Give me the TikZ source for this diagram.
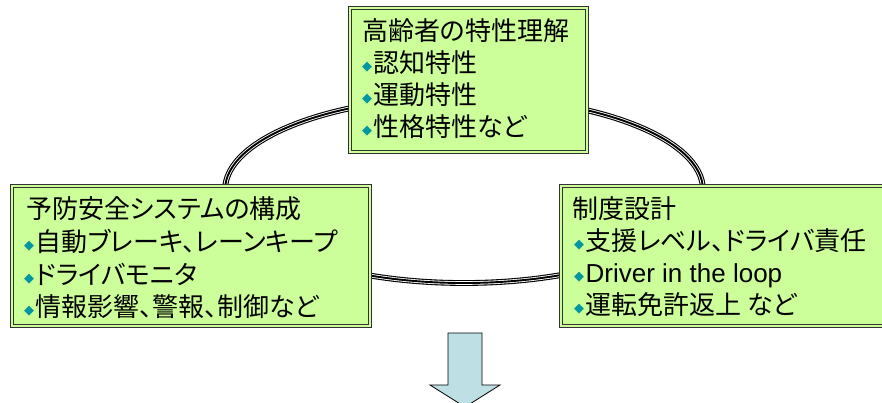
\documentclass[tikz,border=0pt]{standalone}
\usepackage{fontspec}
\setmainfont[RawFeature=+palt]{Noto Sans CJK JP}
\newfontfamily\latfont{Liberation Sans}
\newfontfamily\symfont{DejaVu Sans}
\definecolor{boxfill}{RGB}{204,255,153}
\definecolor{boxline}{RGB}{50,50,50}
\definecolor{bulc}{RGB}{0,150,160}
\definecolor{arrowfill}{RGB}{190,224,228}
\newcommand{\bul}{\raisebox{2pt}{\symfont\fontsize{13}{13}\selectfont\color{bulc}◆}\hspace{1.5pt}}
\begin{document}
\begin{tikzpicture}[x=1pt,y=-1pt,
  box/.style={draw=boxline, line width=1.2pt, double=boxfill, double distance=1.8pt,
    fill=boxfill, anchor=north west, inner sep=0pt},
  txt/.style={anchor=base west, inner sep=0pt, font=\fontsize{26}{30}\selectfont}]
\useasboundingbox (0,0) rectangle (882,402);
% ring
\coordinate (c) at (464,190);
\draw[black, line width=5.8pt] (c) ellipse [x radius=239pt, y radius=93pt];
\draw[white, line width=3.6pt] (c) ellipse [x radius=239pt, y radius=93pt];
\draw[black, line width=1.9pt] (c) ellipse [x radius=239pt, y radius=93pt];
% boxes
\node[box, minimum width=237pt, minimum height=144pt] (top) at (349,7) {};
\node[box, minimum width=358pt, minimum height=140pt] (left) at (11,185) {};
\node[box, minimum width=340pt, minimum height=140pt] (right) at (560,185) {};
% top text
\node[txt] (t1) at (362,40) {高齢者の特性理解};
\node[txt] (t2) at (362,72) {\bul 認知特性};
\node[txt] (t3) at (362,104) {\bul 運動特性};
\node[txt] (t4) at (362,136) {\bul 性格特性など};
% left text
\node[txt] (l1) at (26,218) {予防安全システムの構成};
\node[txt] (l2) at (24,251) {\bul 自動ブレーキ、レーンキープ};
\node[txt] (l3) at (24,284) {\bul ドライバモニタ};
\node[txt] (l4) at (24,316) {\bul 情報影響、警報、制御など};
% right text
\node[txt] (r1) at (572,218) {制度設計};
\node[txt] (r2) at (574,250) {\bul 支援レベル、ドライバ責任};
\node[txt] (r3) at (574,282) {\bul {\latfont Driver in the loop}};
\node[txt] (r4) at (574,314) {\bul 運転免許返上 など};
% arrow
\draw[fill=arrowfill, draw=black, line width=0.8pt, line join=miter]
  (448,333) -- (482,333) -- (482,385) -- (500,385) -- (465,407) -- (430,385) -- (448,385) -- cycle;
\end{tikzpicture}
\end{document}
